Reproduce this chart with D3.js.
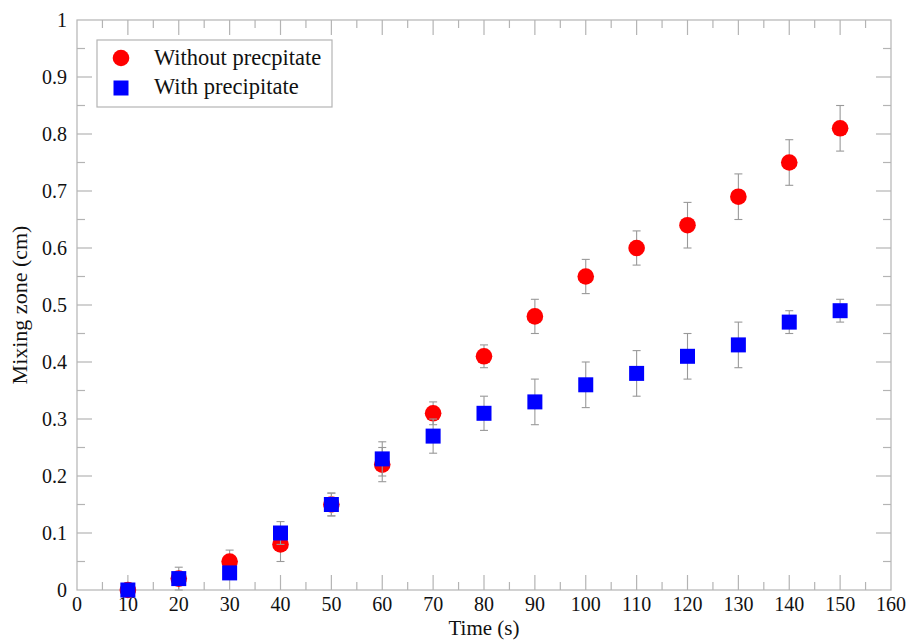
<!DOCTYPE html>
<html><head><meta charset="utf-8">
<script src="https://cdn.jsdelivr.net/npm/d3@7"></script>
<style>body{margin:0;background:#fff;} text{font-family:"Liberation Serif","Times New Roman",serif;fill:#111;}</style>
</head><body>
<svg id="c" width="909" height="640"></svg>
<script>
const times = [10,20,30,40,50,60,70,80,90,100,110,120,130,140,150];
const withoutVals = [0.00,0.02,0.05,0.08,0.15,0.22,0.31,0.41,0.48,0.55,0.60,0.64,0.69,0.75,0.81];
const withoutErr  = [0.01,0.02,0.02,0.03,0.02,0.03,0.02,0.02,0.03,0.03,0.03,0.04,0.04,0.04,0.04];
const withVals    = [0.00,0.02,0.03,0.10,0.15,0.23,0.27,0.31,0.33,0.36,0.38,0.41,0.43,0.47,0.49];
const withErr     = [0.01,0.01,0.01,0.02,0.02,0.03,0.03,0.03,0.04,0.04,0.04,0.04,0.04,0.02,0.02];
const seriesNames = ["Without precpitate","With precipitate"];
const xTicks = d3.range(0,161,10);
const yTicks = [0,0.1,0.2,0.3,0.4,0.5,0.6,0.7,0.8,0.9,1];
const xLabel = "Time (s)", yLabel = "Mixing zone (cm)";

const svg = d3.select("#c");
const L=77, R=891, T=20, B=590;
const x = d3.scaleLinear().domain([0,160]).range([L,R]);
const y = d3.scaleLinear().domain([0,1]).range([B,T]);
const grey="#b4b4b4";

// frame
svg.append("rect").attr("x",L).attr("y",T).attr("width",R-L).attr("height",B-T)
  .attr("fill","none").attr("stroke",grey).attr("stroke-width",1.2);

// ticks inward on all sides
const xMinor = d3.range(5,160,10), yMinor = d3.range(0.05,1,0.1);
const tg = svg.append("g").attr("stroke",grey).attr("stroke-width",1.2);
function xt(vals,len){
  vals.forEach(v=>{
    tg.append("line").attr("x1",x(v)).attr("x2",x(v)).attr("y1",B).attr("y2",B-len);
    tg.append("line").attr("x1",x(v)).attr("x2",x(v)).attr("y1",T).attr("y2",T+len);
  });
}
function yt(vals,len){
  vals.forEach(v=>{
    tg.append("line").attr("y1",y(v)).attr("y2",y(v)).attr("x1",L).attr("x2",L+len);
    tg.append("line").attr("y1",y(v)).attr("y2",y(v)).attr("x1",R).attr("x2",R-len);
  });
}
xt(xTicks.slice(1,-1),15); xt(xMinor,8);
yt(yTicks.slice(1,-1),15); yt(yMinor,8);

// tick labels
svg.append("g").selectAll("text").data(xTicks).join("text")
  .attr("x",d=>x(d)).attr("y",611).attr("text-anchor","middle").attr("font-size",20).text(d=>d);
svg.append("g").selectAll("text").data(yTicks).join("text")
  .attr("x",67).attr("y",d=>y(d)+7).attr("text-anchor","end").attr("font-size",20).text(d=>d);

// axis labels
svg.append("text").attr("x",(L+R)/2).attr("y",635).attr("text-anchor","middle").attr("font-size",21).text(xLabel);
svg.append("text").attr("transform",`translate(27,${(T+B)/2}) rotate(-90)`).attr("text-anchor","middle").attr("font-size",22).text(yLabel);

function errbars(vals,errs){
  const g = svg.append("g").attr("stroke","#999").attr("stroke-width",1.1);
  times.forEach((t,i)=>{
    const cx=x(t), y1=y(vals[i]-errs[i]), y2=y(vals[i]+errs[i]);
    g.append("line").attr("x1",cx).attr("x2",cx).attr("y1",y1).attr("y2",y2);
    g.append("line").attr("x1",cx-4).attr("x2",cx+4).attr("y1",y1).attr("y2",y1);
    g.append("line").attr("x1",cx-4).attr("x2",cx+4).attr("y1",y2).attr("y2",y2);
  });
}
errbars(withoutVals,withoutErr);
svg.append("g").selectAll("circle").data(times).join("circle")
  .attr("cx",d=>x(d)).attr("cy",(d,i)=>y(withoutVals[i])).attr("r",8.3).attr("fill","#ff0000");
errbars(withVals,withErr);
svg.append("g").selectAll("rect").data(times).join("rect")
  .attr("x",d=>x(d)-7.5).attr("y",(d,i)=>y(withVals[i])-7.5).attr("width",15).attr("height",15).attr("fill","#0000ff");

// legend
const lg = svg.append("g");
lg.append("rect").attr("x",97).attr("y",40).attr("width",235).attr("height",67).attr("fill","#fff").attr("stroke",grey).attr("stroke-width",1.2);
lg.append("circle").attr("cx",121).attr("cy",58).attr("r",8.3).attr("fill","#ff0000");
lg.append("rect").attr("x",113.5).attr("y",80.5).attr("width",15).attr("height",15).attr("fill","#0000ff");
lg.append("text").attr("x",154).attr("y",65).attr("font-size",22.5).text(seriesNames[0]);
lg.append("text").attr("x",154).attr("y",94).attr("font-size",22.5).text(seriesNames[1]);
</script>
</body></html>
